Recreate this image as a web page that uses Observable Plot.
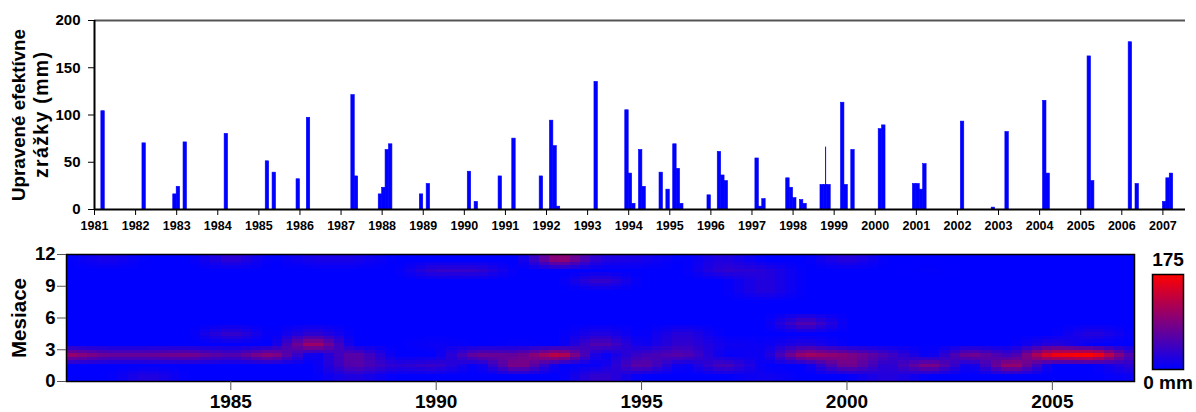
<!DOCTYPE html>
<html><head><meta charset="utf-8">
<script src="https://cdn.jsdelivr.net/npm/d3@7"></script>
<script src="https://cdn.jsdelivr.net/npm/@observablehq/plot@0.6"></script>
<style>
html,body{margin:0;padding:0;background:#fff;}
#wrap{position:relative;width:1196px;height:412px;overflow:hidden;font-family:"Liberation Sans",Arial,sans-serif;}
#wrap svg{position:absolute;}
</style></head><body><div id="wrap"></div>
<script>
// ---- data ----
const barYear  = [1981,1982,1982,1983,1983,1984,1985,1985,1985,1986,1987,1987,1987,1988,1988,1988,1988,1989,1990,1990,1990,1991,1991,1992,1992,1992,1993,1993,1994,1994,1994,1994,1994,1994,1995,1995,1995,1995,1996,1996,1996,1997,1997,1997,1997,1997,1998,1998,1998,1998,1998,1998,1999,1999,1999,2000,2000,2000,2001,2001,2001,2002,2002,2003,2004,2004,2005,2005,2006,2006,2007,2007,2007];
const barMonth = [3,3,12,1,3,3,3,5,12,3,4,5,12,1,2,3,12,2,2,4,11,3,11,2,3,4,3,12,1,2,4,5,10,12,2,3,4,12,3,4,5,2,3,4,11,12,1,3,4,9,10,11,3,4,6,2,3,12,1,2,3,2,11,3,2,3,3,4,3,5,1,2,3];
const barValue = [104,70,16,24,71,80,51,39,32,97,121,35,16,23,63,69,16,27,40,8,35,75,35,94,67,3,135,105,38,6,63,24,39,21,69,43,6,15,61,36,30,54,3,11,33,23,12,10,6,26,26,26,113,26,63,85,89,27,27,21,48,93,2,82,115,38,162,30,177,27,8,33,38];
const spikeYear = [1998], spikeMonth = [10], spikeValue = [66];
const yearTicks = d3.range(1981, 2008);
const precipTicks = [0, 50, 100, 150, 200];
const heatYearTicks = [1985, 1990, 1995, 2000, 2005];
const monthTicks = [0, 3, 6, 9, 12];
const colorMax = 175;
const yTitle1 = "Upravené efektívne", yTitle2 = "zrážky (mm)", mapTitle = "Mesiace";

const bars = barYear.map((y, i) => ({year: y, month: barMonth[i], value: barValue[i],
  t0: y + (barMonth[i] - 1) / 12, t1: y + barMonth[i] / 12}));
const spikes = spikeYear.map((y, i) => ({t: y + (spikeMonth[i] - 0.5) / 12, value: spikeValue[i]}));

// year x month grid for the map
const y0 = 1981, nYears = 2007 - 1981 + 1;
const grid = d3.range(nYears).map(() => new Array(12).fill(0));
bars.forEach(b => { grid[b.year - y0][b.month - 1] = b.value; });
function interp(x, y) {
  let fx = Math.max(0, Math.min(nYears - 1, x - y0));
  let fy = Math.max(0, Math.min(11, y - 0.5));
  const i0 = Math.floor(fx), i1 = Math.min(nYears - 1, i0 + 1), ax = fx - i0;
  const j0 = Math.floor(fy), j1 = Math.min(11, j0 + 1), ay = fy - j0;
  const a = grid[i0][j0] * (1 - ax) + grid[i1][j0] * ax;
  const b = grid[i0][j1] * (1 - ax) + grid[i1][j1] * ax;
  return a * (1 - ay) + b * ay;
}

const FONT = "Liberation Sans, Arial, sans-serif";
const colorScale = {type: "linear", domain: [0, colorMax], range: ["#0000ff", "#ff0000"], interpolate: "rgb", clamp: true};
const wrap = document.getElementById("wrap");

function fitText(svg, content, length, adjust) {
  d3.select(svg).selectAll("text").filter(function () { return this.textContent === content; })
    .attr("textLength", length).attr("lengthAdjust", adjust);
}

// ---- top: bar chart ----
const topPlot = Plot.plot({
  width: 1196, height: 232, marginTop: 20, marginBottom: 23, marginLeft: 94, marginRight: 11,
  style: {fontFamily: FONT, fontWeight: "bold", color: "#000", background: "transparent", overflow: "visible"},
  x: {domain: [1981, 2007.55]},
  y: {domain: [0, 200]},
  marks: [
    Plot.ruleY([200], {stroke: "#555", strokeWidth: 2}),
    Plot.rectY(bars, {x1: "t0", x2: "t1", y: "value", fill: "#0000ff", stroke: "#0000ff", strokeWidth: 0.6}),
    Plot.ruleX(spikes, {x: "t", y1: 0, y2: "value", stroke: "#0000ff", strokeWidth: 1}),
    Plot.ruleY([0], {stroke: "#000", strokeWidth: 2}),
    Plot.ruleX([1981], {y1: 0, y2: 200, stroke: "#000", strokeWidth: 2}),
    Plot.axisX(yearTicks, {tickSize: 6, tickPadding: 6, tickFormat: d => String(d), fontSize: 12.5, fontWeight: "bold", label: null, stroke: "#000"}),
    Plot.axisY(precipTicks, {tickSize: 6, tickPadding: 8, fontSize: 15, fontWeight: "bold", label: null, stroke: "#000"}),
    Plot.text([yTitle1], {frameAnchor: "left", textAnchor: "middle", lineAnchor: "middle", rotate: -90, dx: -75, fontSize: 18.5, fontWeight: "bold", fill: "#000"}),
    Plot.text([yTitle2], {frameAnchor: "left", textAnchor: "middle", lineAnchor: "middle", rotate: -90, dx: -53, fontSize: 19.5, fontWeight: "bold", fill: "#000"})
  ]
});
fitText(topPlot, yTitle1, 172, "spacingAndGlyphs");
fitText(topPlot, yTitle2, 126, "spacing");
topPlot.style.left = "0px"; topPlot.style.top = "0px";
wrap.appendChild(topPlot);

// ---- bottom: month x year map ----
const heat = Plot.plot({
  width: 1196, height: 182, marginTop: 24, marginBottom: 31, marginLeft: 66, marginRight: 62,
  style: {fontFamily: FONT, fontWeight: "bold", color: "#000", background: "transparent", overflow: "visible"},
  x: {domain: [1981, 2007]},
  y: {domain: [0, 12]},
  color: colorScale,
  marks: [
    Plot.raster({fill: (x, y) => interp(x, y), x1: 1981, x2: 2007, y1: 0, y2: 12, width: 104, height: 36, imageRendering: "pixelated"}),
    Plot.frame({stroke: "#000", strokeWidth: 1.5}),
    Plot.axisX(heatYearTicks, {tickSize: 9, tickPadding: 4, tickFormat: d => String(d), fontSize: 19, fontWeight: "bold", label: null, stroke: "#555"}),
    Plot.axisY(monthTicks, {tickSize: 9, tickPadding: 2, fontSize: 18.5, fontWeight: "bold", label: null, stroke: "#555"}),
    Plot.text([mapTitle], {frameAnchor: "left", textAnchor: "middle", lineAnchor: "middle", rotate: -90, dx: -47, fontSize: 20, fontWeight: "bold", fill: "#000"})
  ]
});
fitText(heat, mapTitle, 80, "spacingAndGlyphs");
heat.style.left = "0px"; heat.style.top = "230px";
wrap.appendChild(heat);

// ---- colour bar ----
const bar = Plot.plot({
  width: 56, height: 182, marginLeft: 12, marginRight: 13, marginTop: 44, marginBottom: 43,
  style: {fontFamily: FONT, fontWeight: "bold", color: "#000", background: "transparent", overflow: "visible"},
  x: {domain: [0, 1], axis: null},
  y: {domain: [0, colorMax], axis: null},
  color: colorScale,
  marks: [
    Plot.raster({fill: (x, y) => y, x1: 0, x2: 1, y1: 0, y2: colorMax, width: 1, height: 96}),
    Plot.frame({stroke: "#000", strokeWidth: 1.5}),
    Plot.text([String(colorMax)], {frameAnchor: "top", lineAnchor: "middle", dy: -15, fontSize: 19, fontWeight: "bold", fill: "#000"}),
    Plot.text(["0 mm"], {frameAnchor: "bottom", lineAnchor: "middle", dy: 13, fontSize: 19, fontWeight: "bold", fill: "#000"})
  ]
});
bar.style.left = "1140px"; bar.style.top = "230px";
wrap.appendChild(bar);
</script>
</body></html>
